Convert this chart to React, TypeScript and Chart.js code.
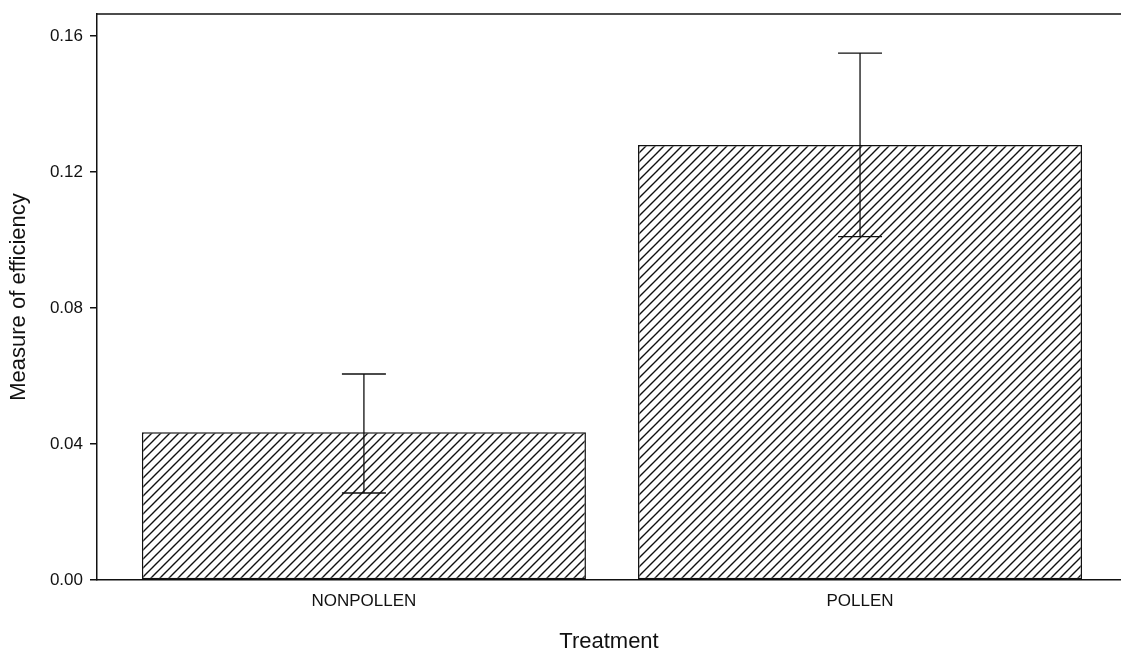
import React, { useEffect, useRef } from "react";
import { Chart, registerables } from "chart.js";

Chart.register(...registerables);

const categories = ["NONPOLLEN", "POLLEN"];
const means = [0.0435, 0.128];
const errLow = [0.0256, 0.101];
const errHigh = [0.0606, 0.155];
const yTicks = [0, 0.04, 0.08, 0.12, 0.16];
const yMax = 0.1665;
const xMin = -0.538;
const xMax = 1.526;

const FONT = "'Liberation Sans', Arial, sans-serif";

function makeHatch(): CanvasPattern | string {
  const s = 9;
  const c = document.createElement("canvas");
  c.width = s;
  c.height = s;
  const ctx = c.getContext("2d");
  if (!ctx) return "#fff";
  ctx.fillStyle = "#ffffff";
  ctx.fillRect(0, 0, s, s);
  ctx.strokeStyle = "#111";
  ctx.lineWidth = 1.4;
  ctx.beginPath();
  ctx.moveTo(-1, s + 1);
  ctx.lineTo(s + 1, -1);
  ctx.moveTo(-2, 2);
  ctx.lineTo(2, -2);
  ctx.moveTo(s - 2, s + 2);
  ctx.lineTo(s + 2, s - 2);
  ctx.stroke();
  return ctx.createPattern(c, "repeat") || "#fff";
}

const frameAndErrors = {
  id: "frameAndErrors",
  afterDatasetsDraw(chart: any) {
    const { ctx, chartArea, scales } = chart;
    const xs = scales.x;
    const ys = scales.y;
    ctx.save();
    ctx.strokeStyle = "#111";
    ctx.lineWidth = 1.5;
    ctx.beginPath();
    ctx.moveTo(chartArea.left, chartArea.top);
    ctx.lineTo(chartArea.right, chartArea.top);
    ctx.stroke();
    ctx.lineWidth = 1.3;
    categories.forEach((_, i) => {
      const x = xs.getPixelForValue(i);
      const yl = ys.getPixelForValue(errLow[i]);
      const yh = ys.getPixelForValue(errHigh[i]);
      const cap = 22;
      ctx.beginPath();
      ctx.moveTo(x, yl);
      ctx.lineTo(x, yh);
      ctx.moveTo(x - cap, yh);
      ctx.lineTo(x + cap, yh);
      ctx.moveTo(x - cap, yl);
      ctx.lineTo(x + cap, yl);
      ctx.stroke();
    });
    ctx.restore();
  },
};

export default function App() {
  const ref = useRef<HTMLCanvasElement | null>(null);

  useEffect(() => {
    if (!ref.current) return;
    const hatch = makeHatch();
    const chart = new Chart(ref.current, {
      type: "bar",
      data: {
        datasets: [
          {
            data: categories.map((_, i) => ({ x: i, y: means[i] })),
            backgroundColor: hatch as any,
            borderColor: "#111",
            borderWidth: 1.5,
            borderSkipped: false,
            categoryPercentage: 1,
            barPercentage: 0.895,
          },
        ],
      },
      options: {
        animation: false,
        responsive: true,
        maintainAspectRatio: false,
        layout: { padding: { top: 14, right: 0, bottom: 0, left: 0 } },
        plugins: {
          legend: { display: false },
          tooltip: { enabled: false },
        },
        scales: {
          x: {
            type: "linear",
            min: xMin,
            max: xMax,
            offset: false,
            grid: { display: false },
            border: { display: true, color: "#111", width: 1.5 },
            afterBuildTicks: (scale: any) => {
              scale.ticks = categories.map((_, i) => ({ value: i }));
            },
            afterFit: (scale: any) => {
              scale.height = 76;
              scale.paddingLeft = 0;
              scale.paddingRight = 0;
            },
            ticks: {
              autoSkip: false,
              maxRotation: 0,
              padding: 3,
              color: "#111",
              font: { family: FONT, size: 17 },
              callback: (v: any) => categories[Math.round(Number(v))] ?? "",
            },
            title: {
              display: true,
              text: "Treatment",
              color: "#111",
              padding: 1,
              font: { family: FONT, size: 22 },
            },
          },
          y: {
            type: "linear",
            min: 0,
            max: yMax,
            grid: {
              display: true,
              drawOnChartArea: false,
              drawTicks: true,
              tickLength: 7,
              color: "#111",
              lineWidth: 1.5,
            },
            border: { display: true, color: "#111", width: 1.5 },
            afterBuildTicks: (scale: any) => {
              scale.ticks = yTicks.map((v) => ({ value: v }));
            },
            afterFit: (scale: any) => {
              scale.width = 97;
              scale.paddingTop = 0;
              scale.paddingBottom = 0;
            },
            ticks: {
              padding: 7,
              color: "#111",
              font: { family: FONT, size: 17 },
              callback: (v: any) => Number(v).toFixed(2),
            },
            title: {
              display: true,
              text: "Measure of efficiency",
              color: "#111",
              padding: 6,
              font: { family: FONT, size: 22 },
            },
          },
        },
      },
      plugins: [frameAndErrors],
    });
    return () => chart.destroy();
  }, []);

  return (
    <div
      style={{
        position: "fixed",
        left: 0,
        top: 0,
        width: 1121,
        height: 656,
        background: "#fff",
      }}
    >
      <canvas ref={ref} />
    </div>
  );
}
